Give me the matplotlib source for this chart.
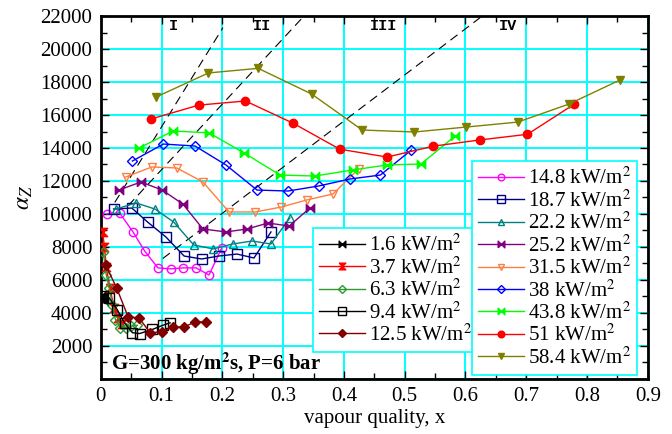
import matplotlib
matplotlib.use("Agg")
import matplotlib.pyplot as plt
from matplotlib.ticker import MultipleLocator, FixedLocator, FixedFormatter

plt.rcParams["font.family"] = ["Liberation Serif", "DejaVu Serif"]
plt.rcParams["mathtext.fontset"] = "stix"

# heat flux series, low fluxes (first legend)
x_1_6 = [0.002, 0.004, 0.006]
y_1_6 = [5100, 4900, 4700]
x_3_7 = [0.003, 0.006, 0.009, 0.015, 0.022, 0.028, 0.035]
y_3_7 = [8900, 8000, 6800, 5500, 4300, 3700, 3300]
x_6_3 = [0.004, 0.009, 0.014, 0.019, 0.024, 0.032, 0.041, 0.050, 0.060]
y_6_3 = [7700, 6300, 5500, 4500, 3600, 3100, 3100, 3200, 3250]
x_9_4 = [0.003, 0.014, 0.027, 0.039, 0.052, 0.064, 0.085, 0.102, 0.114]
y_9_4 = [5000, 4900, 4200, 3400, 2800, 2750, 3000, 3250, 3400]
x_12_5 = [0.008, 0.026, 0.045, 0.063, 0.081, 0.100, 0.118, 0.137, 0.155, 0.173]
y_12_5 = [6900, 5520, 3760, 3700, 2800, 2850, 3150, 3150, 3450, 3450]

# higher fluxes (second legend)
x_14_8 = [0.010, 0.031, 0.053, 0.072, 0.094, 0.115, 0.135, 0.157, 0.178, 0.199]
y_14_8 = [10000, 10060, 8910, 7760, 6730, 6670, 6730, 6730, 6300, 7940]
x_18_7 = [0.021, 0.051, 0.077, 0.107, 0.137, 0.166, 0.194, 0.224, 0.252, 0.280]
y_18_7 = [10300, 10360, 9510, 8610, 7450, 7270, 7450, 7570, 7330, 8910]
x_22_2 = [0.025, 0.058, 0.089, 0.120, 0.153, 0.185, 0.217, 0.249, 0.280, 0.311]
y_22_2 = [10300, 10670, 10300, 9510, 8120, 7880, 8180, 8360, 8180, 9760]
x_25_2 = [0.030, 0.066, 0.101, 0.135, 0.168, 0.206, 0.241, 0.275, 0.310, 0.344]
y_25_2 = [11450, 11940, 11450, 10600, 9090, 8910, 9090, 9450, 9270, 10360]
x_31_5 = [0.041, 0.084, 0.125, 0.168, 0.211, 0.254, 0.297, 0.339, 0.382, 0.424]
y_31_5 = [12240, 12850, 12790, 11940, 10120, 10120, 10420, 10850, 11210, 12730]
x_38 = [0.052, 0.103, 0.155, 0.206, 0.257, 0.308, 0.359, 0.410, 0.460, 0.511]
y_38 = [13210, 14240, 14120, 12970, 11450, 11390, 11700, 12120, 12360, 13880]
x_43_8 = [0.063, 0.119, 0.178, 0.236, 0.295, 0.352, 0.415, 0.471, 0.527, 0.583]
y_43_8 = [14000, 15030, 14920, 13690, 12360, 12300, 12670, 12970, 13030, 14730]
x_51 = [0.082, 0.161, 0.238, 0.316, 0.393, 0.471, 0.547, 0.624, 0.702, 0.779]
y_51 = [15750, 16600, 16850, 15510, 13930, 13450, 14110, 14490, 14830, 16660]
x_58_4 = [0.091, 0.177, 0.259, 0.347, 0.430, 0.516, 0.601, 0.686, 0.770, 0.854]
y_58_4 = [17090, 18550, 18830, 17270, 15090, 14970, 15270, 15570, 16660, 18120]

# flow regime boundaries (dashed) and labels
bound_x = [[0.023, 0.201], [0.045, 0.333], [0.102, 0.624]]
bound_y = [[10700, 21300], [10500, 21950], [7300, 21900]]
regimes = ["I", "II", "III", "IV"]
regime_x = [0.12, 0.265, 0.465, 0.67]

bowtie = [(-1, -1), (-1, 1), (1, -1), (1, 1), (-1, -1)]
hourglass = [(-1, 1), (1, 1), (-1, -1), (1, -1), (-1, 1)]

fig = plt.figure(figsize=(6.72, 4.34), dpi=100)
ax = fig.add_axes([0.150, 0.127, 0.814, 0.836])

ax.grid(True, color="#00ffff", linewidth=1.4)
ax.set_axisbelow(True)

for bx, by in zip(bound_x, bound_y):
    ax.plot(bx, by, color="black", linewidth=0.8, dashes=(8, 5), zorder=2)

for name, rx in zip(regimes, regime_x):
    ax.text(rx, 21400, name, family="Liberation Mono", fontweight="bold",
            fontsize=11, ha="center", va="center")

low = [
    (x_1_6, y_1_6, "1.6", "black", bowtie, "black"),
    (x_3_7, y_3_7, "3.7", "red", hourglass, "red"),
    (x_6_3, y_6_3, "6.3", "#2e9a2e", "D", "none"),
    (x_9_4, y_9_4, "9.4", "black", "s", "none"),
    (x_12_5, y_12_5, "12.5", "#800000", "D", "#800000"),
]
high = [
    (x_14_8, y_14_8, "14.8", "#ff00ff", "o", "none"),
    (x_18_7, y_18_7, "18.7", "#000080", "s", "none"),
    (x_22_2, y_22_2, "22.2", "#008080", "^", "none"),
    (x_25_2, y_25_2, "25.2", "#800080", bowtie, "#800080"),
    (x_31_5, y_31_5, "31.5", "#ff7f40", "v", "none"),
    (x_38, y_38, "38", "#0000ff", "D", "none"),
    (x_43_8, y_43_8, "43.8", "#00ff00", bowtie, "#00ff00"),
    (x_51, y_51, "51", "#ff0000", "o", "#ff0000"),
    (x_58_4, y_58_4, "58.4", "#808000", "v", "#808000"),
]

def draw(series):
    handles = []
    for xs, ys, lab, col, mk, fc in series:
        ms = 5 if mk == "D" else 6
        if mk == "s":
            ms = 7
        h, = ax.plot(xs, ys, color=col, marker=mk, markersize=ms,
                     markerfacecolor=fc, markeredgecolor=col, linewidth=1.0,
                     label=lab + r" kW/m$^2$", zorder=3)
        handles.append(h)
    return handles

h_low = draw(low)
h_high = draw(high)

leg_kw = dict(fontsize=15, frameon=True, fancybox=False, edgecolor="#00ffff",
              framealpha=1, borderaxespad=0, labelspacing=0.05,
              handlelength=2.2, handletextpad=0.2, borderpad=0.3,
              markerscale=0.8)
leg1 = ax.legend(handles=h_low, loc="lower left",
                 bbox_to_anchor=(0.388, 0.074), **leg_kw)
leg1.get_frame().set_linewidth(1.2)
ax.add_artist(leg1)
leg2 = ax.legend(handles=h_high, loc="lower left",
                 bbox_to_anchor=(0.678, 0.011), **leg_kw)
leg2.get_frame().set_linewidth(1.2)

ax.text(0.016, 900, r"G=300 kg/m$^\mathbf{2}$s, P=6 bar", fontsize=15,
        fontweight="bold", ha="left", va="center", zorder=4)

ax.set_xlim(0, 0.9)
ax.set_ylim(0, 22000)
ax.xaxis.set_major_locator(MultipleLocator(0.1))
ax.xaxis.set_minor_locator(MultipleLocator(0.05))
xt = [i / 10 for i in range(10)]
ax.xaxis.set_major_locator(FixedLocator(xt))
ax.xaxis.set_major_formatter(FixedFormatter(["0"] + ["%.1f" % v for v in xt[1:]]))
yt = list(range(0, 22001, 2000))
ax.yaxis.set_major_locator(FixedLocator(yt))
ax.yaxis.set_major_formatter(FixedFormatter([""] + [str(v) for v in yt[1:]]))
ax.yaxis.set_minor_locator(MultipleLocator(1000))
ax.tick_params(which="both", direction="in", top=True, right=True,
               labelsize=15, width=1.0)
ax.tick_params(which="major", length=6, pad=6)
ax.tick_params(which="minor", length=4)
for s in ax.spines.values():
    s.set_linewidth(2)

ax.set_xlabel("vapour quality, x", fontsize=15, labelpad=2)
ax.set_ylabel(r"$\alpha_Z$", fontsize=17, labelpad=4)

fig.savefig("out.png", dpi=100)
